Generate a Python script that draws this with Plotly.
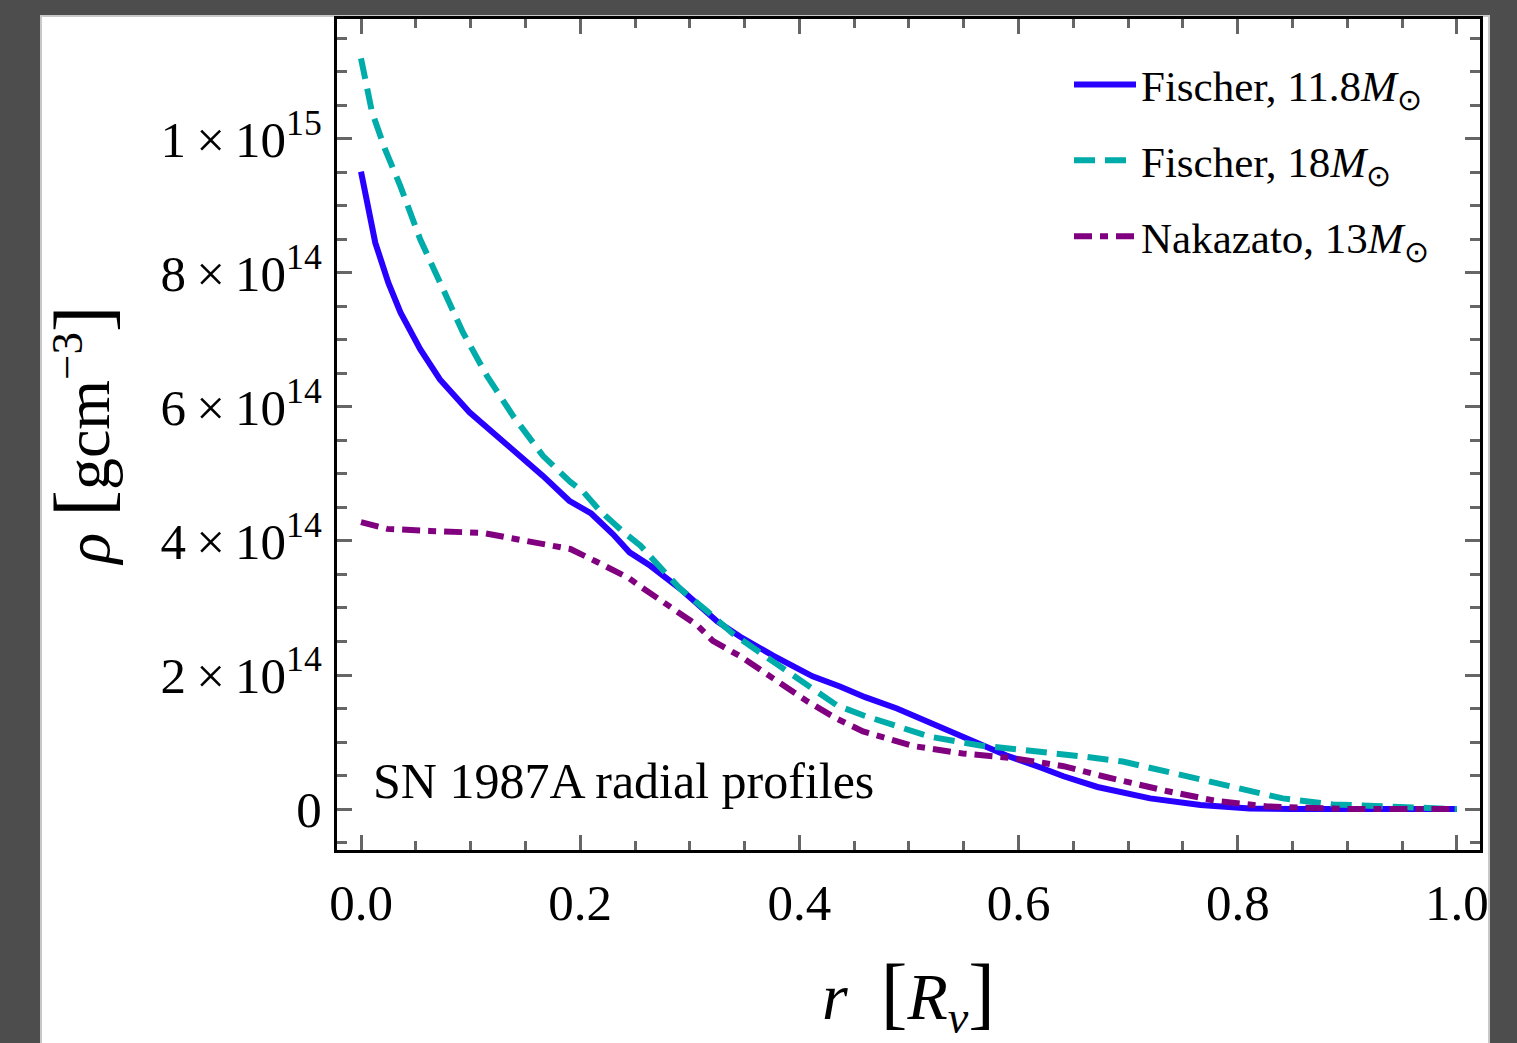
import plotly.graph_objects as go

# ---- data ----
r_fischer_118 = [0.0, 0.013, 0.025, 0.036, 0.054, 0.072, 0.099, 0.124, 0.145, 0.166, 0.19, 0.21,
                 0.23, 0.245, 0.264, 0.291, 0.325, 0.346, 0.376, 0.412, 0.437, 0.46, 0.489, 0.52,
                 0.549, 0.589, 0.62, 0.641, 0.672, 0.702, 0.72, 0.766, 0.811, 0.85, 0.9, 1.0]
rho_fischer_118 = [9.51e14, 8.45e14, 7.85e14, 7.41e14, 6.86e14, 6.41e14, 5.92e14, 5.57e14, 5.27e14,
                   4.97e14, 4.60e14, 4.41e14, 4.10e14, 3.83e14, 3.63e14, 3.29e14, 2.80e14, 2.57e14,
                   2.29e14, 1.98e14, 1.83e14, 1.67e14, 1.50e14, 1.28e14, 1.06e14, 0.80e14, 0.62e14,
                   0.49e14, 0.33e14, 0.22e14, 0.16e14, 0.06e14, 0.01e14, 0.0, 0.0, 0.0]

r_fischer_18 = [0.0, 0.01, 0.022, 0.036, 0.054, 0.072, 0.093, 0.115, 0.139, 0.166, 0.182, 0.191,
                0.203, 0.218, 0.239, 0.255, 0.27, 0.291, 0.316, 0.339, 0.376, 0.407, 0.434, 0.458,
                0.489, 0.519, 0.565, 0.61, 0.656, 0.695, 0.735, 0.796, 0.841, 0.887, 0.948, 1.0]
rho_fischer_18 = [11.2e14, 10.4e14, 9.84e14, 9.29e14, 8.50e14, 7.86e14, 7.11e14, 6.46e14, 5.86e14,
                  5.27e14, 5.00e14, 4.88e14, 4.73e14, 4.45e14, 4.14e14, 3.93e14, 3.66e14, 3.29e14,
                  2.95e14, 2.62e14, 2.20e14, 1.85e14, 1.55e14, 1.40e14, 1.23e14, 1.08e14, 0.95e14,
                  0.88e14, 0.79e14, 0.71e14, 0.56e14, 0.31e14, 0.16e14, 0.07e14, 0.03e14, 0.0]

r_nakazato_13 = [0.0, 0.024, 0.063, 0.111, 0.154, 0.191, 0.215, 0.245, 0.255, 0.285, 0.307, 0.321,
                 0.346, 0.376, 0.407, 0.434, 0.458, 0.504, 0.549, 0.595, 0.641, 0.677, 0.695, 0.735,
                 0.781, 0.827, 0.9, 0.994]
rho_nakazato_13 = [4.28e14, 4.18e14, 4.15e14, 4.12e14, 3.99e14, 3.88e14, 3.69e14, 3.44e14, 3.32e14,
                   2.99e14, 2.74e14, 2.51e14, 2.28e14, 1.95e14, 1.61e14, 1.35e14, 1.16e14, 0.94e14,
                   0.83e14, 0.76e14, 0.64e14, 0.49e14, 0.42e14, 0.27e14, 0.12e14, 0.04e14, 0.0, 0.0]

series_names = ["Fischer, 11.8<i>M</i><sub>⊙</sub>",
                "Fischer, 18<i>M</i><sub>⊙</sub>",
                "Nakazato, 13<i>M</i><sub>⊙</sub>"]

y_tick_vals = [0, 2e14, 4e14, 6e14, 8e14, 1e15]
y_tick_text = ["0", "2\u2009×\u200910<sup>14</sup>", "4\u2009×\u200910<sup>14</sup>",
               "6\u2009×\u200910<sup>14</sup>", "8\u2009×\u200910<sup>14</sup>",
               "1\u2009×\u200910<sup>15</sup>"]
x_tick_vals = [0.0, 0.2, 0.4, 0.6, 0.8, 1.0]
x_tick_text = ["0.0", "0.2", "0.4", "0.6", "0.8", "1.0"]

annotation_text = "SN 1987A radial profiles"

# ---- figure ----
SERIF = "Liberation Serif, Times New Roman, serif"
W, H = 1517, 1043
L, R, T, B = 337, 37, 19, 191
pw, ph = W - L - R, H - T - B


def px_x(p):
    return (p - L) / pw


def px_y(p):
    return (H - B - p) / ph


fig = go.Figure()
fig.add_trace(go.Scatter(x=r_fischer_118, y=rho_fischer_118, mode="lines", name=series_names[0],
                         legendgroup="a",
                         line=dict(color="rgb(40,0,255)", width=6)))
fig.add_trace(go.Scatter(x=r_fischer_18, y=rho_fischer_18, mode="lines", name=series_names[1],
                         legendgroup="b",
                         line=dict(color="rgb(0,172,170)", width=6, dash="21px,10px")))
fig.add_trace(go.Scatter(x=r_nakazato_13, y=rho_nakazato_13, mode="lines", name=series_names[2],
                         legendgroup="c",
                         line=dict(color="rgb(128,0,128)", width=6, dash="18px,8px,8px,8px")))

axis_common = dict(
    showline=True, linecolor="black", linewidth=3, mirror="allticks",
    ticks="inside", tickcolor="#666666", tickwidth=3, ticklen=15,
    showgrid=False, zeroline=False,
    tickfont=dict(family=SERIF, size=51, color="black"),
)

fig.update_xaxes(
    **axis_common,
    range=[-0.0219, 1.021],
    tickmode="array", tickvals=x_tick_vals, ticktext=x_tick_text,
    ticklabelstandoff=6,
    minor=dict(tickmode="linear", tick0=0, dtick=0.05, ticks="inside", ticklen=9,
               tickcolor="#666666", tickwidth=3, showgrid=False),
    title=dict(text="<i>r</i>  <span style='font-size:80px'>[</span><i>R</i><sub><i>ν</i></sub><span style='font-size:80px'>]</span>",
               font=dict(family=SERIF, size=66, color="black"), standoff=54),
)
fig.update_yaxes(
    **axis_common,
    range=[-0.061e15, 1.1786e15],
    tickmode="array", tickvals=y_tick_vals, ticktext=y_tick_text,
    ticklabelstandoff=2,
    minor=dict(tickmode="linear", tick0=0, dtick=0.5e14, ticks="inside", ticklen=10,
               tickcolor="#666666", tickwidth=3, showgrid=False),
    title=dict(text="<i>ρ</i> <span style='font-size:80px'>[</span>gcm<sup>−3</sup><span style='font-size:80px'>]</span>",
               font=dict(family=SERIF, size=64, color="black"), standoff=31),
)

fig.add_annotation(
    x=px_x(371), y=px_y(783), xref="paper", yref="paper",
    xanchor="left", yanchor="middle", showarrow=False,
    text=annotation_text, font=dict(family=SERIF, size=50, color="black"),
)

# page frame: dark border around a white panel
fig.add_shape(type="rect", xref="paper", yref="paper",
              x0=px_x(41), x1=px_x(1489), y0=px_y(1060), y1=px_y(16),
              fillcolor="white", line=dict(color="#c8c8c8", width=2), layer="below")
fig.add_shape(type="rect", xref="paper", yref="paper",
              x0=px_x(1490), x1=px_x(1530), y0=px_y(1060), y1=px_y(-10),
              fillcolor="#4d4d4d", line=dict(width=0), layer="above")

fig.update_layout(
    width=W, height=H,
    margin=dict(l=L, r=R, t=T, b=B),
    paper_bgcolor="#4d4d4d", plot_bgcolor="white",
    showlegend=True,
    legend=dict(x=px_x(1069), y=px_y(50), xanchor="left", yanchor="top",
                bgcolor="rgba(0,0,0,0)", borderwidth=0,
                font=dict(family=SERIF, size=43, color="black"),
                tracegroupgap=17, traceorder="grouped", itemwidth=62),
)

fig.write_html("out.html",
               config={"displayModeBar": False},
               post_script="document.body.style.margin='0';document.body.style.padding='0';"
                           "document.body.style.background='#4d4d4d';"
                           "document.documentElement.style.overflow='hidden';")
